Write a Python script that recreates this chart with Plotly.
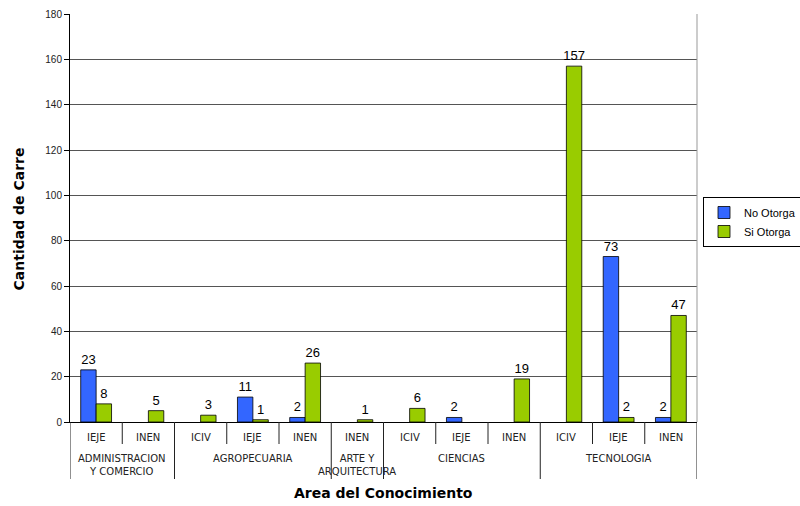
import plotly.graph_objects as go

areas = ["ADMINISTRACION<br>Y COMERCIO", "AGROPECUARIA", "ARTE Y<br>ARQUITECTURA", "CIENCIAS", "TECNOLOGIA"]
sub_labels = ["IEJE", "INEN", "ICIV", "IEJE", "INEN", "INEN", "ICIV", "IEJE", "INEN", "ICIV", "IEJE", "INEN"]
area_of_sub = [0, 0, 1, 1, 1, 2, 3, 3, 3, 4, 4, 4]
no_otorga = [23, None, None, 11, 2, None, None, 2, None, None, 73, 2]
si_otorga = [8, 5, 3, 1, 26, 1, 6, None, 19, 157, 2, 47]
y_ticks = [0, 20, 40, 60, 80, 100, 120, 140, 160, 180]

xs = list(range(len(sub_labels)))
PLOT_H = 408.0
FONT = "Liberation Sans, Arial, sans-serif"
WFONT = "DejaVu Sans, Verdana, sans-serif"

def lbl(v):
    return [("" if x is None else str(x)) for x in v]

fig = go.Figure()
fig.add_trace(go.Bar(x=xs, y=no_otorga, name="No Otorga", marker=dict(color="#3366FF", line=dict(color="black", width=0.8)),
                     text=lbl(no_otorga), textposition="outside", constraintext="none",
                     textfont=dict(size=13, color="black", family=FONT), cliponaxis=False))
fig.add_trace(go.Bar(x=xs, y=si_otorga, name="Si Otorga", marker=dict(color="#99CC00", line=dict(color="black", width=0.8)),
                     text=lbl(si_otorga), textposition="outside", constraintext="none",
                     textfont=dict(size=13, color="black", family=FONT), cliponaxis=False))

shapes = []
annotations = []
bounds = [-0.5]
for i in range(1, len(xs)):
    if area_of_sub[i] != area_of_sub[i - 1]:
        bounds.append(i - 0.5)
bounds.append(len(xs) - 0.5)
for b in [i - 0.5 for i in range(len(xs) + 1)]:
    long = any(abs(b - g) < 1e-9 for g in bounds)
    y1 = -57 / PLOT_H if long else -22 / PLOT_H
    shapes.append(dict(type="line", xref="x", yref="paper", x0=b, x1=b, y0=0, y1=y1,
                       line=dict(color="#222222", width=1)))
for i, s in enumerate(sub_labels):
    annotations.append(dict(x=i, y=-15 / PLOT_H, xref="x", yref="paper", text=s, showarrow=False,
                            font=dict(size=10, family=WFONT, color="#222222"), yanchor="middle"))
for a, name in enumerate(areas):
    idx = [i for i, g in enumerate(area_of_sub) if g == a]
    cx = (idx[0] + idx[-1]) / 2
    annotations.append(dict(x=cx, y=-29 / PLOT_H, xref="x", yref="paper", text=name, showarrow=False,
                            font=dict(size=10, family=WFONT, color="#222222"), yanchor="top"))
shapes.append(dict(type="line", xref="paper", yref="paper", x0=1, x1=1, y0=0, y1=1,
                   line=dict(color="#999999", width=1)))

annotations.append(dict(x=-52 / 627, y=(422 - 293) / PLOT_H, xref="paper", yref="paper", text="<b>Cantidad de Carre</b>",
                        textangle=-90, showarrow=False, xanchor="center", yanchor="bottom",
                        font=dict(size=14, family=WFONT, color="black")))
annotations.append(dict(x=0.5, y=(422 - 493) / PLOT_H, xref="paper", yref="paper", text="<b>Area del Conocimiento</b>",
                        showarrow=False, xanchor="center", yanchor="middle",
                        font=dict(size=14, family=WFONT, color="black")))

fig.update_layout(
    width=800, height=506,
    margin=dict(l=70, r=103, t=14, b=84, autoexpand=False),
    paper_bgcolor="white", plot_bgcolor="white",
    barmode="group", bargap=0.41, bargroupgap=0,
    showlegend=True,
    legend=dict(xref="container", yref="container", x=703 / 800, y=(506 - 197) / 506, xanchor="left", yanchor="top",
                bordercolor="black", borderwidth=1, bgcolor="white", itemwidth=30,
                font=dict(size=11, family=FONT, color="black"), tracegroupgap=0),
    shapes=shapes, annotations=annotations,
    xaxis=dict(range=[-0.5, len(xs) - 0.5], showticklabels=False, showgrid=False, zeroline=False,
               showline=True, linecolor="black", linewidth=1, ticks=""),
    yaxis=dict(range=[0, 180], tickvals=y_ticks, showgrid=True, gridcolor="#555555", gridwidth=1,
               zeroline=False, showline=True, linecolor="black", linewidth=1,
               ticks="outside", ticklen=5, tickcolor="black",
               tickfont=dict(size=10, family=FONT, color="#222222")),
)

fig.write_html("out.html")
